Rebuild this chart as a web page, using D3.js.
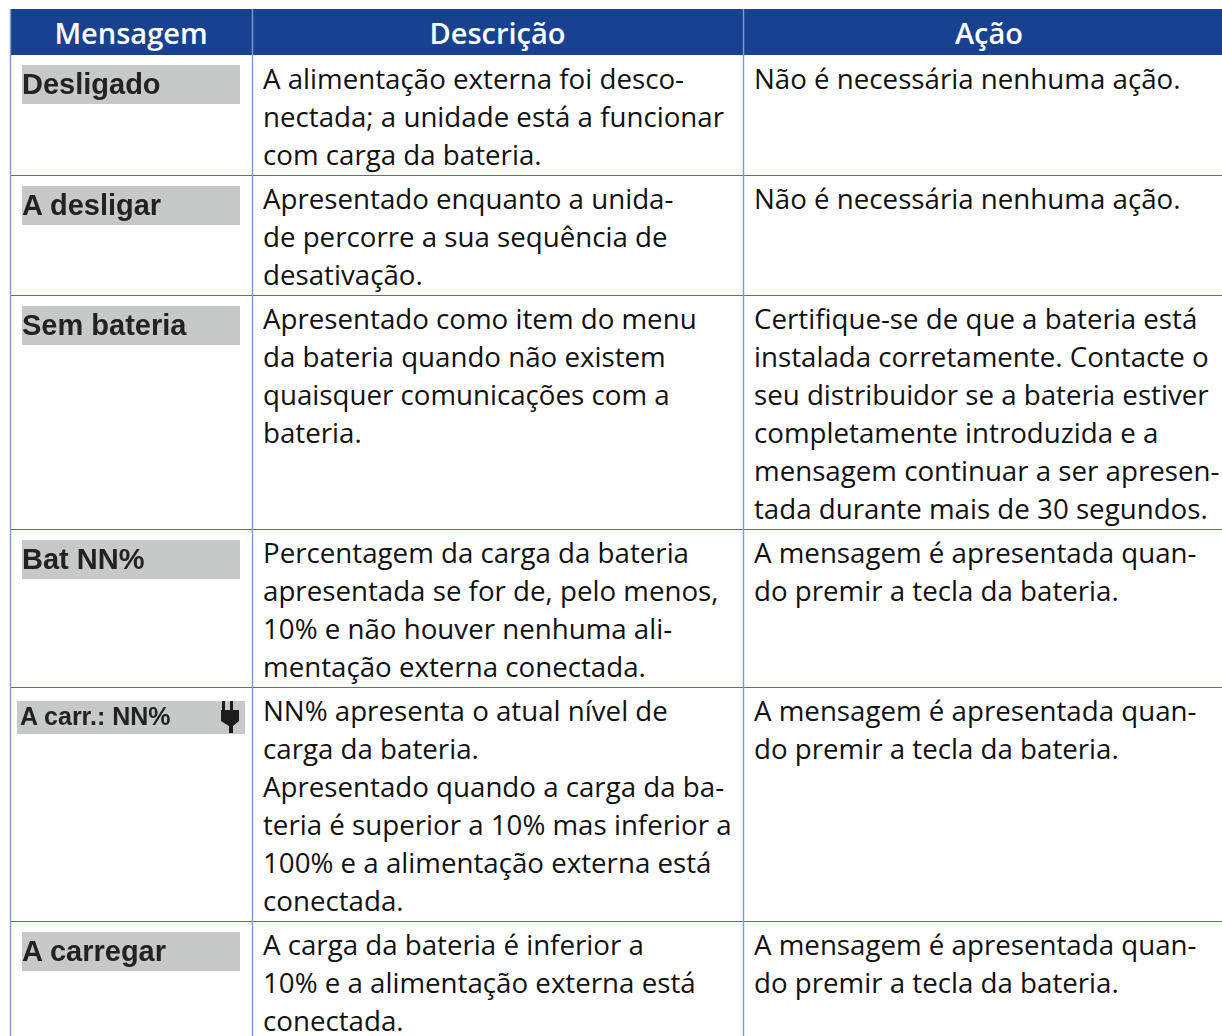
<!DOCTYPE html>
<html>
<head>
<meta charset="utf-8">
<script src="https://cdn.jsdelivr.net/npm/d3@7"></script>
<style>
html,body{margin:0;padding:0;background:#fff;overflow:hidden}
svg{display:block}
</style>
</head>
<body>
<script>
var headers=["Mensagem","Descrição","Ação"]
var messages=["Desligado","A desligar","Sem bateria","Bat NN%","A carr.: NN%","A carregar"]
var descriptions=[
  ["A alimentação externa foi desco-","nectada; a unidade está a funcionar","com carga da bateria."],
  ["Apresentado enquanto a unida-","de percorre a sua sequência de","desativação."],
  ["Apresentado como item do menu","da bateria quando não existem","quaisquer comunicações com a","bateria."],
  ["Percentagem da carga da bateria","apresentada se for de, pelo menos,","10% e não houver nenhuma ali-","mentação externa conectada."],
  ["NN% apresenta o atual nível de","carga da bateria.","Apresentado quando a carga da ba-","teria é superior a 10% mas inferior a","100% e a alimentação externa está","conectada."],
  ["A carga da bateria é inferior a","10% e a alimentação externa está","conectada."]
]
var actions=[
  ["Não é necessária nenhuma ação."],
  ["Não é necessária nenhuma ação."],
  ["Certifique-se de que a bateria está","instalada corretamente. Contacte o","seu distribuidor se a bateria estiver","completamente introduzida e a","mensagem continuar a ser apresen-","tada durante mais de 30 segundos."],
  ["A mensagem é apresentada quan-","do premir a tecla da bateria."],
  ["A mensagem é apresentada quan-","do premir a tecla da bateria."],
  ["A mensagem é apresentada quan-","do premir a tecla da bateria."]
]

var page={width:1222,height:1036}
var colEdges=[10,252,743,1235]
var tableTop=9,headH=46,lineH=38,pad=6
var blue="#18428f",rowLine="#4c6fae",colLine="#7f9bcd"
var font="'Open Sans',sans-serif"

var svg=d3.select("body").append("svg")
          .attr("width",page.width)
          .attr("height",page.height)

svg.append("defs").append("filter")
   .attr("id","soft")
   .append("feGaussianBlur")
   .attr("stdDeviation",0.6)

// row tops come from how many lines each row holds
var rows=messages.map(function(d,i){
  return {msg:d,desc:descriptions[i],act:actions[i],n:Math.max(descriptions[i].length,actions[i].length)}
})
var y0=tableTop+headH
rows.forEach(function(r){
  r.y=y0
  r.h=r.n*lineH+pad
  y0+=r.h
})
var yLine=d3.scaleLinear().domain([0,1]).range([34,34+lineH])

svg.append("rect")
   .attr("x",colEdges[0])
   .attr("y",tableTop)
   .attr("width",colEdges[3]-colEdges[0])
   .attr("height",headH)
   .attr("fill",blue)

svg.selectAll(".head")
   .data(headers)
   .enter()
   .append("text")
   .classed("head",true)
   .attr("x",function(d,i){return (colEdges[i]+colEdges[i+1])/2})
   .attr("y",tableTop+35)
   .attr("text-anchor","middle")
   .attr("font-family",font)
   .attr("font-weight",600)
   .attr("font-size",29)
   .attr("fill","#fff")
   .text(function(d){return d})

var row=svg.selectAll(".row")
           .data(rows)
           .enter()
           .append("g")
           .classed("row",true)
           .attr("transform",function(d){return "translate(0,"+d.y+")"})

row.append("line")
   .attr("x1",colEdges[0])
   .attr("x2",page.width)
   .attr("y1",function(d){return d.h+0.5})
   .attr("y2",function(d){return d.h+0.5})
   .attr("stroke",rowLine)

// grey display badges
row.append("rect")
   .attr("x",function(d,i){return i==4?17:22})
   .attr("y",function(d,i){return i==4?14:(i==0?10:11)})
   .attr("width",function(d,i){return i==4?228:218})
   .attr("height",function(d,i){return i==4?33:39})
   .attr("fill","#c6c9c7")

row.append("text")
   .attr("x",function(d,i){return i==4?20:22})
   .attr("y",function(d,i){return i==4?38:(i==0?39:40)})
   .attr("font-family","'Liberation Sans',Arial,sans-serif")
   .attr("font-weight",700)
   .attr("font-size",function(d,i){return i==4?25:29})
   .attr("fill","#222")
   .attr("filter","url(#soft)")
   .text(function(d){return d.msg})

// plug icon on the charging badge
row.filter(function(d,i){return i==4})
   .append("path")
   .attr("d","M222 14h3v9h5v-9h3v9h6v11l-6 5v7h-4v-7l-8-5v-11h1z")
   .attr("fill","#1a1a1a")
   .attr("filter","url(#soft)")

var addLines=function(key,col){
  row.selectAll("."+key)
     .data(function(d){return d[key]})
     .enter()
     .append("text")
     .classed(key,true)
     .attr("x",colEdges[col]+11)
     .attr("y",function(d,i){return yLine(i)})
     .attr("font-family",font)
     .attr("font-size",27.7)
     .attr("fill","#111")
     .text(function(d){return d})
}
addLines("desc",1)
addLines("act",2)

// column rules go on top of the row rules
svg.selectAll(".col")
   .data(colEdges.slice(0,3))
   .enter()
   .append("line")
   .classed("col",true)
   .attr("x1",function(d){return d+0.5})
   .attr("x2",function(d){return d+0.5})
   .attr("y1",function(d){return tableTop})
   .attr("y2",page.height)
   .attr("stroke",colLine)
   .attr("stroke-width",1.4)
</script>
</body>
</html>
